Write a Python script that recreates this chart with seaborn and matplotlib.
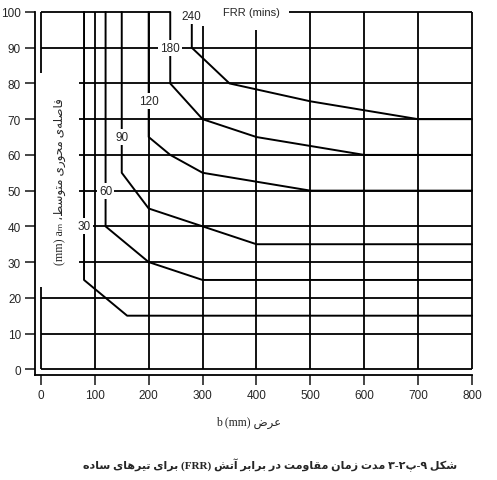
"""
Fire resistance chart for simply supported beams (FRR curves)
"""
import matplotlib
matplotlib.use("Agg")
import matplotlib.pyplot as plt
import pandas as pd
import seaborn as sns

# FRR curves: minimum width b (mm) and mean axis distance a_m (mm)
frr_minutes = [30, 60, 90, 120, 180, 240]
width_b = [
    [80, 120, 160, 200],
    [120, 160, 200, 300],
    [150, 200, 300, 400],
    [200, 240, 300, 500],
    [240, 300, 400, 600],
    [280, 350, 500, 700],
]
axis_dist = [
    [25, 20, 15, 15],
    [40, 35, 30, 25],
    [55, 45, 40, 35],
    [65, 60, 55, 50],
    [80, 70, 65, 60],
    [90, 80, 75, 70],
]
label_height = [40, 50, 65, 75, 90, 99]

x_ticks = [0, 100, 200, 300, 400, 500, 600, 700, 800]
y_ticks = [0, 10, 20, 30, 40, 50, 60, 70, 80, 90, 100]

# grid layout (where each grid line starts / ends)
hgrid_start = [0, 0, 0, 70, 70, 70, 70, 70, 70, 0, 0]
vgrid_top = [100, 100, 96, 95, 100, 100, 100, 100]

frr_title = "FRR (mins)"
caption_words = ["شکل", "۹-پ۲-۳", "مدت", "زمان", "مقاومت", "در", "برابر",
                 "آتش", "(FRR)", "برای", "تیرهای", "ساده"]
ylabel_words = ["فاصله\u200cی", "محوری", "متوسط،"]
xlabel_word = "عرض"

# Arabic/Persian presentation forms: isolated, final, initial, medial
FORMS = {
    'ا': (0xFE8D, 0xFE8E), 'آ': (0xFE81, 0xFE82),
    'د': (0xFEA9, 0xFEAA), 'ر': (0xFEAD, 0xFEAE),
    'ز': (0xFEAF, 0xFEB0), 'و': (0xFEED, 0xFEEE),
    'ب': (0xFE8F, 0xFE90, 0xFE91, 0xFE92), 'پ': (0xFB56, 0xFB57, 0xFB58, 0xFB59),
    'ت': (0xFE95, 0xFE96, 0xFE97, 0xFE98), 'ح': (0xFEA1, 0xFEA2, 0xFEA3, 0xFEA4),
    'س': (0xFEB1, 0xFEB2, 0xFEB3, 0xFEB4), 'ش': (0xFEB5, 0xFEB6, 0xFEB7, 0xFEB8),
    'ص': (0xFEB9, 0xFEBA, 0xFEBB, 0xFEBC), 'ض': (0xFEBD, 0xFEBE, 0xFEBF, 0xFEC0),
    'ط': (0xFEC1, 0xFEC2, 0xFEC3, 0xFEC4), 'ع': (0xFEC9, 0xFECA, 0xFECB, 0xFECC),
    'ف': (0xFED1, 0xFED2, 0xFED3, 0xFED4), 'ق': (0xFED5, 0xFED6, 0xFED7, 0xFED8),
    'ک': (0xFB8E, 0xFB8F, 0xFB90, 0xFB91), 'ل': (0xFEDD, 0xFEDE, 0xFEDF, 0xFEE0),
    'م': (0xFEE1, 0xFEE2, 0xFEE3, 0xFEE4), 'ن': (0xFEE5, 0xFEE6, 0xFEE7, 0xFEE8),
    'ه': (0xFEE9, 0xFEEA, 0xFEEB, 0xFEEC), 'ی': (0xFBFC, 0xFBFD, 0xFBFE, 0xFBFF),
}


def visual(word):
    """Shape a Persian word and return it in visual (left to right) order"""
    if not any(ch in FORMS for ch in word):
        return word
    out = []
    for i, ch in enumerate(word):
        if ch not in FORMS:
            out.append('' if ch == '\u200c' else ch)
            continue
        forms = FORMS[ch]
        prev = word[i - 1] if i > 0 else None
        nxt = word[i + 1] if i + 1 < len(word) else None
        join_prev = prev in FORMS and len(FORMS[prev]) == 4
        join_next = nxt in FORMS and len(forms) == 4
        if join_prev and join_next:
            out.append(chr(forms[3]))
        elif join_prev:
            out.append(chr(forms[1]))
        elif join_next:
            out.append(chr(forms[2]))
        else:
            out.append(chr(forms[0]))
    return ''.join(out)[::-1]


sns.set_style("ticks")
plt.rcParams['font.family'] = ['Liberation Sans', 'DejaVu Sans']

XMIN, XMAX = -11, 800
YMIN, YMAX = -1.6, 100

# curve table: vertical from top, the curve, then horizontal to the right edge
rows = []
for frr, bs, avals in zip(frr_minutes, width_b, axis_dist):
    path = [(bs[0], YMAX)] + list(zip(bs, avals)) + [(XMAX, avals[-1])]
    for k, (b, a) in enumerate(path):
        rows.append({'FRR': frr, 'order': k, 'b': b, 'a': a})
curves = pd.DataFrame(rows)

fig = plt.figure(figsize=(4.97, 4.81), dpi=100)
ax = fig.add_axes([0.0704, 0.2183, 0.8793, 0.7547])
line_kw = dict(color='black', lw=1.3, clip_on=False)

# grid
for y, x0 in zip(y_ticks[:-1], hgrid_start[:-1]):
    ax.hlines(y, x0, XMAX, **line_kw)
ax.hlines(YMAX, 0, width_b[4][0], **line_kw)
ax.hlines(YMAX, 460, XMAX, **line_kw)
for x, top in zip(x_ticks[1:], vgrid_top):
    ax.vlines(x, 0, top, **line_kw)
ax.vlines(0, 0, 23, **line_kw)
ax.vlines(0, 83, YMAX, **line_kw)

sns.lineplot(data=curves, x='b', y='a', units='FRR', estimator=None, sort=False,
             color='black', lw=1.4, ax=ax, legend=False, clip_on=False)

box = dict(fc='white', ec='none', pad=1.5)
for frr, bs, ly in zip(frr_minutes, width_b, label_height):
    ax.text(bs[0], ly, str(frr), ha='center', va='center', fontsize=8.5,
            bbox=box, zorder=5)
ax.text(390, YMAX, frr_title, ha='center', va='center', fontsize=8,
        bbox=box, zorder=5)

ax.set_xlim(XMIN, XMAX)
ax.set_ylim(YMIN, YMAX)
ax.set_xticks(x_ticks)
ax.set_yticks(y_ticks)
ax.set_xlabel('')
ax.set_ylabel('')
ax.tick_params(axis='x', direction='out', length=7, width=1.2, pad=3, labelsize=8.5)
ax.tick_params(axis='y', direction='out', length=7, width=1.2, pad=3, labelsize=8.5)
for side in ['top', 'right']:
    ax.spines[side].set_visible(False)
for side in ['left', 'bottom']:
    ax.spines[side].set_linewidth(1.3)
    ax.spines[side].set_color('black')

serif_ar = ['Liberation Serif', 'DejaVu Sans']
ylabel = "(mm) a\u2098 " + ' '.join(visual(w) for w in reversed(ylabel_words))
fig.text(0.121, 0.622, ylabel, rotation=90, ha='center', va='center',
         fontsize=8.6, family=serif_ar)
fig.text(0.50, 0.121, "b (mm) " + visual(xlabel_word), ha='center', va='center',
         fontsize=8.5, family=serif_ar)
caption = ' '.join(visual(w) for w in reversed(caption_words))
fig.text(0.543, 0.033, caption, ha='center', va='center', fontsize=8,
         fontweight='bold', family=serif_ar)

plt.savefig('out.png', dpi=100)
plt.close()
